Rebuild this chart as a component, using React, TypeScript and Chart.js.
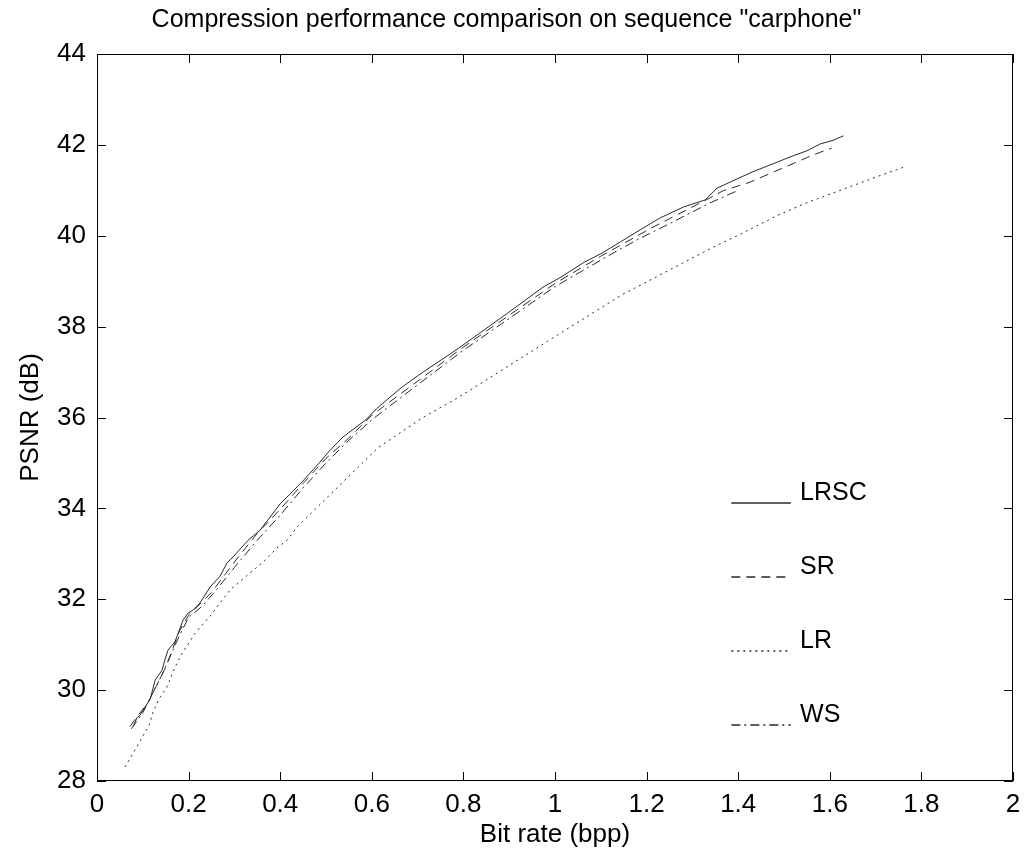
import React, { useEffect, useRef } from "react";
import { Chart, registerables } from "chart.js";

Chart.register(...registerables);

const X_TICKS = [0, 0.2, 0.4, 0.6, 0.8, 1, 1.2, 1.4, 1.6, 1.8, 2];
const Y_TICKS = [28, 30, 32, 34, 36, 38, 40, 42, 44];

const SERIES_NAMES = ["LRSC", "SR", "LR", "WS"];

const LRSC_X = [0.079, 0.087, 0.094, 0.105, 0.116, 0.127, 0.142, 0.148, 0.155, 0.17, 0.188, 0.199, 0.21, 0.225, 0.247, 0.268, 0.284, 0.297, 0.33, 0.356, 0.4, 0.428, 0.454, 0.487, 0.507, 0.537, 0.587, 0.611, 0.666, 0.712, 0.786, 0.897, 0.974, 1.013, 1.061, 1.103, 1.142, 1.186, 1.229, 1.28, 1.328, 1.354, 1.43, 1.52, 1.55, 1.579, 1.607, 1.63];
const LRSC_Y = [29.2, 29.39, 29.45, 29.63, 29.8, 30.22, 30.44, 30.66, 30.88, 31.06, 31.54, 31.7, 31.76, 31.92, 32.27, 32.5, 32.8, 32.93, 33.3, 33.52, 34.1, 34.38, 34.65, 35.02, 35.26, 35.57, 35.95, 36.2, 36.67, 37.0, 37.5, 38.3, 38.87, 39.09, 39.4, 39.62, 39.86, 40.13, 40.39, 40.63, 40.79, 41.05, 41.4, 41.76, 41.87, 42.02, 42.1, 42.2];

const SR_X = [0.072, 0.09, 0.11, 0.13, 0.15, 0.165, 0.18, 0.2, 0.22, 0.25, 0.28, 0.31, 0.35, 0.4, 0.45, 0.5, 0.55, 0.6, 0.7, 0.8, 0.9, 1.0, 1.1, 1.214, 1.245, 1.338, 1.367, 1.426, 1.539, 1.552, 1.58, 1.604];
const SR_Y = [29.2, 29.45, 29.7, 30.1, 30.5, 30.9, 31.3, 31.65, 31.85, 32.15, 32.55, 32.95, 33.45, 33.98, 34.55, 35.1, 35.55, 36.05, 36.8, 37.55, 38.25, 38.95, 39.55, 40.19, 40.35, 40.83, 40.99, 41.18, 41.67, 41.73, 41.84, 41.93];

const LR_X = [0.061, 0.072, 0.114, 0.122, 0.135, 0.153, 0.164, 0.175, 0.181, 0.214, 0.251, 0.262, 0.29, 0.352, 0.367, 0.393, 0.415, 0.437, 0.544, 0.613, 0.71, 0.78, 0.808, 1.033, 1.146, 1.338, 1.356, 1.41, 1.484, 1.548, 1.607, 1.655, 1.7, 1.762];
const LR_Y = [28.31, 28.49, 29.23, 29.5, 29.8, 30.07, 30.36, 30.6, 30.73, 31.25, 31.68, 31.83, 32.2, 32.73, 32.86, 33.13, 33.3, 33.59, 34.65, 35.33, 35.99, 36.39, 36.56, 37.99, 38.7, 39.71, 39.8, 40.06, 40.44, 40.72, 40.94, 41.12, 41.29, 41.51];

const WS_X = [0.075, 0.1, 0.12, 0.14, 0.16, 0.18, 0.2, 0.23, 0.26, 0.3, 0.35, 0.4, 0.45, 0.5, 0.55, 0.6, 0.7, 0.8, 0.9, 1.0, 1.127, 1.183, 1.245, 1.338, 1.4];
const WS_Y = [29.15, 29.5, 29.9, 30.3, 30.75, 31.2, 31.6, 31.85, 32.2, 32.7, 33.3, 33.85, 34.45, 35.0, 35.5, 35.95, 36.72, 37.48, 38.18, 38.88, 39.62, 39.93, 40.24, 40.72, 41.0];

const FONT = "'Liberation Sans', Arial, Helvetica, sans-serif";
const LINE_COLOR = "#2a2a2a";

const pts = (xs: number[], ys: number[]) => xs.map((x, i) => ({ x, y: ys[i] }));

const boxPlugin = {
  id: "matlabBox",
  afterDraw(chart: any) {
    const { ctx, chartArea: a, scales } = chart;
    const xs = scales.x;
    const ys = scales.y;
    const t = 9;
    ctx.save();
    ctx.strokeStyle = "#000";
    ctx.lineWidth = 1;
    ctx.strokeRect(Math.round(a.left) + 0.5, Math.round(a.top) + 0.5, Math.round(a.right - a.left) - 1, Math.round(a.bottom - a.top) - 1);
    ctx.beginPath();
    X_TICKS.forEach((v) => {
      const px = Math.round(xs.getPixelForValue(v)) + 0.5;
      ctx.moveTo(px, a.bottom);
      ctx.lineTo(px, a.bottom - t);
      ctx.moveTo(px, a.top);
      ctx.lineTo(px, a.top + t);
    });
    Y_TICKS.forEach((v) => {
      const py = Math.round(ys.getPixelForValue(v)) + 0.5;
      ctx.moveTo(a.left, py);
      ctx.lineTo(a.left + t, py);
      ctx.moveTo(a.right, py);
      ctx.lineTo(a.right - t, py);
    });
    ctx.stroke();
    ctx.restore();
  },
};

const textLegendPlugin = {
  id: "textLegend",
  afterDraw(chart: any, _args: any, opts: any) {
    const { ctx, scales } = chart;
    const xs = scales.x;
    const ys = scales.y;
    const x0 = xs.getPixelForValue(opts.lineFrom);
    const x1 = xs.getPixelForValue(opts.lineTo);
    const xt = xs.getPixelForValue(opts.textAt);
    ctx.save();
    chart.data.datasets.forEach((ds: any, i: number) => {
      const yc = ys.getPixelForValue(opts.rows[i]);
      ctx.strokeStyle = LINE_COLOR;
      ctx.lineWidth = 1.5;
      ctx.setLineDash(ds.borderDash || []);
      ctx.beginPath();
      ctx.moveTo(x0, yc + 10);
      ctx.lineTo(x1, yc + 10);
      ctx.stroke();
      ctx.setLineDash([]);
      ctx.fillStyle = "#000";
      ctx.font = `25px ${FONT}`;
      ctx.textBaseline = "middle";
      ctx.textAlign = "left";
      ctx.fillText(ds.label, xt, yc);
    });
    ctx.restore();
  },
};

export default function App() {
  const canvasRef = useRef<HTMLCanvasElement | null>(null);

  useEffect(() => {
    document.body.style.margin = "0";
    const canvas = canvasRef.current;
    if (!canvas) return;
    const dashes = [[], [9, 6], [2, 4], [9, 4, 2, 4]];
    const series = [
      pts(LRSC_X, LRSC_Y),
      pts(SR_X, SR_Y),
      pts(LR_X, LR_Y),
      pts(WS_X, WS_Y),
    ];
    const chart = new Chart(canvas, {
      type: "scatter",
      data: {
        datasets: series.map((d, i) => ({
          label: SERIES_NAMES[i],
          data: d,
          showLine: true,
          pointRadius: 0,
          borderColor: LINE_COLOR,
          backgroundColor: LINE_COLOR,
          borderWidth: 1,
          borderDash: dashes[i],
          tension: 0,
          fill: false,
        })),
      },
      options: {
        responsive: false,
        animation: false,
        layout: { padding: { left: 0, right: 19, top: 0, bottom: 0 } },
        plugins: {
          legend: { display: false },
          tooltip: { enabled: false },
          title: {
            display: true,
            text: 'Compression performance comparison on sequence "carphone"',
            color: "#000",
            font: { family: FONT, size: 25, weight: "normal" },
            padding: { top: 5, bottom: 19 },
          },
          textLegend: {
            lineFrom: 1.385,
            lineTo: 1.515,
            textAt: 1.535,
            rows: [34.34, 32.71, 31.08, 29.45],
          },
        } as any,
        scales: {
          x: {
            type: "linear",
            min: 0,
            max: 2,
            afterBuildTicks: (s: any) => {
              s.ticks = X_TICKS.map((v) => ({ value: v }));
            },
            afterFit: (s: any) => {
              s.height = 77;
            },
            grid: { display: false, drawTicks: false },
            border: { display: false },
            ticks: {
              color: "#000",
              padding: 8,
              maxRotation: 0,
              autoSkip: false,
              font: { family: FONT, size: 26 },
              callback: (v: any) => String(Number(Number(v).toFixed(1))),
            },
            title: {
              display: true,
              text: "Bit rate (bpp)",
              color: "#000",
              font: { family: FONT, size: 26 },
              padding: { top: 2, bottom: 8 },
            },
          },
          y: {
            type: "linear",
            min: 28,
            max: 44,
            afterBuildTicks: (s: any) => {
              s.ticks = Y_TICKS.map((v) => ({ value: v }));
            },
            afterFit: (s: any) => {
              s.width = 97;
            },
            grid: { display: false, drawTicks: false },
            border: { display: false },
            ticks: {
              color: "#000",
              padding: 11,
              autoSkip: false,
              font: { family: FONT, size: 26 },
              callback: (v: any) => String(v),
            },
            title: {
              display: true,
              text: "PSNR (dB)",
              color: "#000",
              font: { family: FONT, size: 26 },
              padding: { top: 15, bottom: 4 },
            },
          },
        },
      },
      plugins: [boxPlugin, textLegendPlugin],
    });
    return () => chart.destroy();
  }, []);

  return (
    <div style={{ width: 1032, height: 858 }}>
      <canvas ref={canvasRef} width={1032} height={858} style={{ display: "block" }} />
    </div>
  );
}
